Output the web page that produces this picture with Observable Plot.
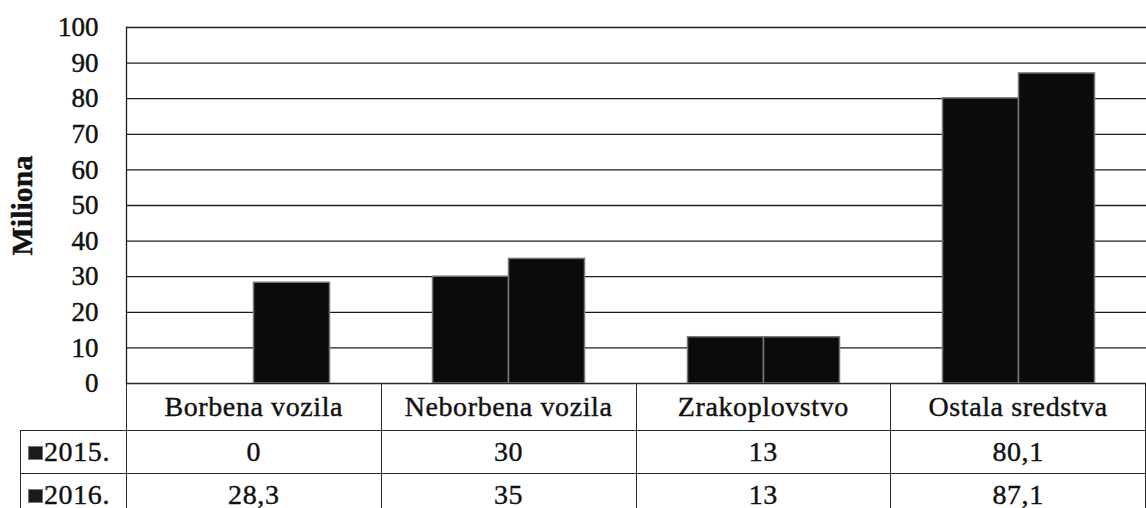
<!DOCTYPE html>
<html>
<head>
<meta charset="utf-8">
<script src="https://cdn.jsdelivr.net/npm/d3@7"></script>
<script src="https://cdn.jsdelivr.net/npm/@observablehq/plot@0.6"></script>
<style>
  html, body { margin: 0; padding: 0; background: #fff; }
  body { width: 1146px; height: 508px; overflow: hidden; font-family: 'Liberation Serif', 'Times New Roman', Times, serif; }
  #wrap { position: relative; width: 1146px; height: 508px; }
  #chart svg { display: block; }
  #chart svg text { font-family: 'Liberation Serif', 'Times New Roman', Times, serif; stroke: #111; stroke-width: 0.45px; paint-order: stroke; }
  #chart g[aria-label="y-axis label"] text { font-weight: bold; font-size: 30px; }
  table.dt { position: absolute; left: 20px; top: 383px; border-collapse: collapse; table-layout: fixed; font-family: 'Liberation Serif', 'Times New Roman', Times, serif; font-size: 28px; color: #111; -webkit-text-stroke: 0.4px #111; }
  table.dt td { border: 1px solid #2a2a2a; padding: 0; text-align: center; white-space: nowrap; letter-spacing: 0.6px; }
  table.dt tr.head td { height: 46px; }
  table.dt tr.row td { height: 42px; }
  table.dt td.blank { border-top: none; border-left: none; }
  table.dt td.ser { text-align: left; padding-left: 7px; }
  .ico { display: inline-block; width: 13px; height: 12px; background: #1a1a1a; border: 1px solid #777; margin-right: 1px; vertical-align: 1px; }
</style>
</head>
<body>
<div id="wrap">
  <div id="chart"></div>
  <table class="dt" id="tbl"></table>
</div>
<script>
const categories = ["Borbena vozila", "Neborbena vozila", "Zrakoplovstvo", "Ostala sredstva"];
const seriesNames = ["2015.", "2016."];
const values2015 = [0, 30, 13, 80.1];
const values2016 = [28.3, 35, 13, 87.1];
const yTicks = [0, 10, 20, 30, 40, 50, 60, 70, 80, 90, 100];
const yLabel = "Miliona";

const W = 1146, ML = 126, MT = 27;
const band = (W - ML) / categories.length;
const barW = 76;
const outer = band / 2 - barW;

const chart = Plot.plot({
  width: W,
  height: 384,
  marginLeft: ML,
  marginRight: 0,
  marginTop: MT,
  marginBottom: 1,
  style: { fontSize: "27px", overflow: "visible", background: "transparent", color: "#111" },
  x: { domain: categories, padding: 0, axis: null },
  y: { domain: [0, 100] },
  marks: [
    Plot.gridY(yTicks, { stroke: "#1c1c1c", strokeOpacity: 1, strokeWidth: 1.3 }),
    Plot.barY(categories, { x: d => d, y: (d, i) => values2015[i], fill: "#0b0b0b", stroke: "#777", strokeWidth: 1.5, insetLeft: outer, insetRight: band / 2 }),
    Plot.barY(categories, { x: d => d, y: (d, i) => values2016[i], fill: "#0b0b0b", stroke: "#777", strokeWidth: 1.5, insetLeft: band / 2, insetRight: outer }),
    Plot.frame({ anchor: "left", stroke: "#1c1c1c", strokeWidth: 1.3 }),
    Plot.axisY(yTicks, {
      tickSize: 0, tickPadding: 28, tickFormat: d => String(d), fontSize: 27,
      label: yLabel, labelAnchor: "center", labelArrow: "none", labelOffset: 116
    })
  ]
});
document.getElementById("chart").appendChild(chart);

// data table below the chart
const fmt = v => String(v).replace(".", ",");
const tbl = document.getElementById("tbl");
const colgroup = document.createElement("colgroup");
[ML - 20, ...categories.map(() => band)].forEach(w => {
  const c = document.createElement("col"); c.style.width = w + "px"; colgroup.appendChild(c);
});
tbl.appendChild(colgroup);
const head = document.createElement("tr"); head.className = "head";
const blank = document.createElement("td"); blank.className = "blank"; head.appendChild(blank);
categories.forEach(c => { const td = document.createElement("td"); td.textContent = c; head.appendChild(td); });
tbl.appendChild(head);
[[seriesNames[0], values2015], [seriesNames[1], values2016]].forEach(([name, vals]) => {
  const tr = document.createElement("tr"); tr.className = "row";
  const td0 = document.createElement("td"); td0.className = "ser";
  td0.innerHTML = '<span class="ico"></span>' + name;
  tr.appendChild(td0);
  vals.forEach(v => { const td = document.createElement("td"); td.textContent = fmt(v); tr.appendChild(td); });
  tbl.appendChild(tr);
});
</script>
</body>
</html>
